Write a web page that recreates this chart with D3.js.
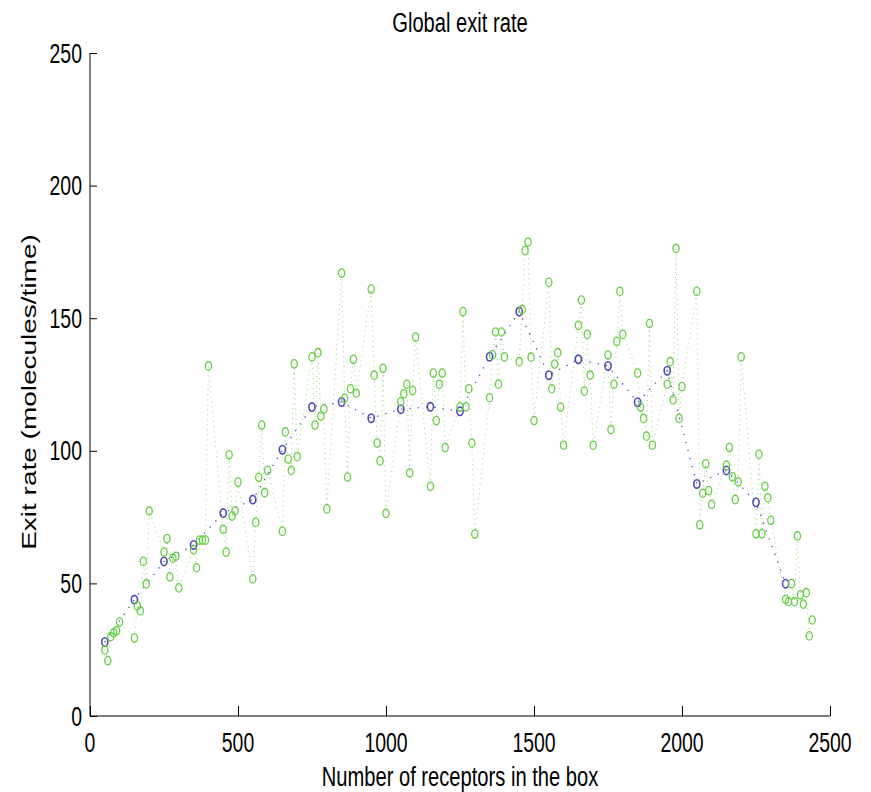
<!DOCTYPE html>
<html>
<head>
<meta charset="utf-8">
<script src="https://cdn.jsdelivr.net/npm/d3@7"></script>
<style>
  body { margin: 0; background: #fff; }
  text { font-family: "Liberation Sans", Arial, Helvetica, sans-serif; fill: #000; }
</style>
</head>
<body>
<div id="chart"></div>
<script>
// datos
const greenX = [
  50, 60, 70, 80, 90, 100,
  150, 160, 170, 180, 190, 200,
  250, 260, 270, 280, 290, 300,
  350, 360, 370, 380, 390, 400,
  450, 460, 470, 480, 490, 500,
  550, 560, 570, 580, 590, 600,
  650, 660, 670, 680, 690, 700,
  750, 760, 770, 780, 790, 800,
  850, 860, 870, 880, 890, 900,
  950, 960, 970, 980, 990, 1000,
  1050, 1060, 1070, 1080, 1090, 1100,
  1150, 1160, 1170, 1180, 1190, 1200,
  1250, 1260, 1270, 1280, 1290, 1300,
  1350, 1360, 1370, 1380, 1390, 1400,
  1450, 1460, 1470, 1480, 1490, 1500,
  1550, 1560, 1570, 1580, 1590, 1600,
  1650, 1660, 1670, 1680, 1690, 1700,
  1750, 1760, 1770, 1780, 1790, 1800,
  1850, 1860, 1870, 1880, 1890, 1900,
  1950, 1960, 1970, 1980, 1990, 2000,
  2050, 2060, 2070, 2080, 2090, 2100,
  2150, 2160, 2170, 2180, 2190, 2200,
  2250, 2260, 2270, 2280, 2290, 2300,
  2350, 2360, 2370, 2380, 2390, 2400, 2410, 2420, 2430, 2440
];
const greenY = [
  24.9, 20.9, 29.9, 31.4, 32.1, 35.4,
  29.4, 41.5, 39.6, 58.3, 49.8, 77.3,
  61.8, 66.9, 52.5, 59.5, 60.2, 48.3,
  62.6, 55.9, 66.3, 66.3, 66.3, 132.0,
  70.4, 61.8, 98.5, 75.4, 77.4, 88.2,
  51.7, 73.0, 90.0, 109.7, 84.2, 92.6,
  69.6, 107.1, 96.9, 92.6, 132.8, 97.8,
  135.4, 109.7, 137.0, 113.1, 115.8, 78.1,
  167.0, 119.8, 90.1, 123.4, 134.5, 121.7,
  161.0, 128.5, 102.9, 96.2, 131.1, 76.4,
  118.5, 121.5, 125.1, 91.7, 122.7, 142.9,
  86.6, 129.3, 111.4, 125.1, 129.3, 101.2,
  116.6, 152.5, 116.6, 123.4, 102.9, 68.6,
  120.0, 136.2, 144.8, 125.1, 144.8, 135.4,
  133.6, 153.2, 175.5, 178.7, 135.3, 111.4,
  163.5, 123.4, 132.7, 137.0, 116.5, 102.1,
  147.3, 156.8, 122.5, 143.9, 128.5, 102.1,
  136.1, 108.0, 125.1, 141.3, 160.1, 143.9,
  129.3, 116.5, 112.2, 105.5, 148.0, 102.1,
  125.1, 133.6, 119.2, 176.3, 112.2, 124.2,
  160.1, 72.1, 84.0, 95.1, 85.0, 79.8,
  94.5, 101.2, 90.2, 81.6, 88.3, 135.4,
  68.7, 98.7, 68.7, 86.6, 82.3, 73.8,
  44.0, 43.1, 49.9, 43.1, 67.9, 45.7, 42.2, 46.5, 30.2, 36.2
];
const blueX = [50, 150, 250, 350, 450, 550, 650, 750, 850, 950, 1050, 1150,
  1250, 1350, 1450, 1550, 1650, 1750, 1850, 1950, 2050, 2150, 2250, 2350];
const blueY = [27.9, 43.9, 58.3, 64.5, 76.5, 81.6, 100.4, 116.5, 118.4, 112.3, 115.7, 116.6,
  114.9, 135.5, 152.5, 128.5, 134.5, 132.0, 118.3, 130.2, 87.5, 92.6, 80.6, 49.9];
const xTicks = [0, 500, 1000, 1500, 2000, 2500];
const yTicks = [0, 50, 100, 150, 200, 250];

// Dimensiones
const width = 871;
const height = 792;
const margin = { top: 53, bottom: 76, left: 90, right: 41 };
const SQ = 0.72; // la figura original esta comprimida horizontalmente
const GREEN = "#64cc44";
const BLUE = "#4f45bb";

const svg = d3.select("#chart")
  .append("svg")
  .attr("width", width)
  .attr("height", height);

const escalaX = d3.scaleLinear()
  .domain([0, 2500])
  .range([margin.left, width - margin.right]);

const escalaY = d3.scaleLinear()
  .domain([0, 250])
  .range([height - margin.bottom, margin.top]);

// ejes (ticks hacia adentro, estilo matlab)
const ejeX = d3.axisTop(escalaX).tickValues(xTicks).tickSize(10).tickFormat("");
const ejeY = d3.axisRight(escalaY).tickValues(yTicks).tickSize(7).tickFormat("");

svg.append("g")
  .attr("transform", `translate(0, ${height - margin.bottom})`)
  .call(ejeX)
  .call(g => g.select(".domain").attr("d", `M${margin.left},0H${width - margin.right}`));

svg.append("g")
  .attr("transform", `translate(${margin.left}, 0)`)
  .call(ejeY)
  .call(g => g.select(".domain").attr("d", `M0,${height - margin.bottom}V${margin.top}`));

svg.selectAll(".domain, .tick line").attr("stroke", "#000").attr("stroke-width", 1);

// etiquetas de los ticks
svg.append("g").selectAll("text")
  .data(xTicks)
  .join("text")
  .attr("transform", d => `translate(${escalaX(d)}, 752) scale(${SQ}, 1)`)
  .attr("text-anchor", "middle")
  .style("font-size", "27px")
  .text(d => d);

svg.append("g").selectAll("text")
  .data(yTicks)
  .join("text")
  .attr("transform", d => `translate(82, ${escalaY(d) + 9.5}) scale(${SQ}, 1)`)
  .attr("text-anchor", "end")
  .style("font-size", "27px")
  .text(d => d);

// titulo y leyendas
svg.append("text")
  .attr("transform", `translate(${(escalaX(0) + escalaX(2500)) / 2}, 32) scale(${SQ}, 1)`)
  .attr("text-anchor", "middle")
  .style("font-size", "28px")
  .text("Global exit rate");

svg.append("text")
  .attr("transform", `translate(${(escalaX(0) + escalaX(2500)) / 2}, 786) scale(${SQ}, 1)`)
  .attr("text-anchor", "middle")
  .style("font-size", "28px")
  .text("Number of receptors in the box");

svg.append("text")
  .attr("transform", `translate(36, 392) rotate(-90) scale(1, ${SQ})`)
  .attr("text-anchor", "middle")
  .style("font-size", "28px")
  .text("Exit rate (molecules/time)");

const greenData = greenX.map((x, i) => ({ x, y: greenY[i] }));
const blueData = blueX.map((x, i) => ({ x, y: blueY[i] }));

const linea = d3.line()
  .x(d => escalaX(d.x))
  .y(d => escalaY(d.y));

// serie azul (promedios)
svg.append("path")
  .datum(blueData)
  .attr("d", linea)
  .attr("fill", "none")
  .attr("stroke", BLUE)
  .attr("stroke-width", 1.3)
  .attr("stroke-dasharray", "1.3,7");

svg.append("g").selectAll("ellipse")
  .data(blueData)
  .join("ellipse")
  .attr("cx", d => escalaX(d.x))
  .attr("cy", d => escalaY(d.y))
  .attr("rx", 3.1)
  .attr("ry", 4.2)
  .attr("fill", "none")
  .attr("stroke", BLUE)
  .attr("stroke-width", 1.6);

// serie verde
svg.append("path")
  .datum(greenData)
  .attr("d", linea)
  .attr("fill", "none")
  .attr("stroke", GREEN)
  .attr("stroke-opacity", 0.7)
  .attr("stroke-width", 1)
  .attr("stroke-dasharray", "1,4");

svg.append("g").selectAll("ellipse")
  .data(greenData)
  .join("ellipse")
  .attr("cx", d => escalaX(d.x))
  .attr("cy", d => escalaY(d.y))
  .attr("rx", 3.1)
  .attr("ry", 4.2)
  .attr("fill", "none")
  .attr("stroke", GREEN)
  .attr("stroke-width", 1.3);
</script>
</body>
</html>
